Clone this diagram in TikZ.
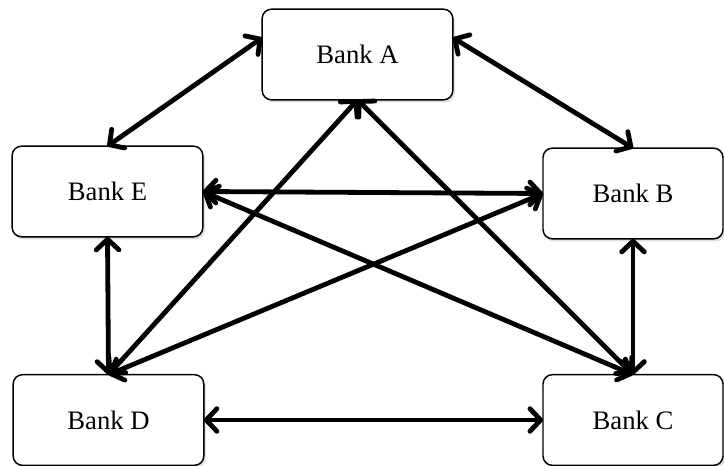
\documentclass[tikz,border=0pt]{standalone}
\usepackage{fontspec}
\setmainfont{Liberation Serif}
\usetikzlibrary{arrows.meta,shadows}

\begin{document}
\begin{tikzpicture}[x=0.75pt,y=-0.75pt,<->,>={Straight Barb[length=8pt,width=17pt,round]},
  line width=3.6pt,
  bank/.style={rectangle,rounded corners=7pt,draw,line width=1.1pt,fill=white,
    minimum width=143pt,minimum height=68pt,inner sep=0pt,outer sep=0pt,
    font=\fontsize{20}{24}\selectfont,
    drop shadow={opacity=0.25,shadow xshift=1.5pt,shadow yshift=-2pt}}]

  \useasboundingbox (0,0) rectangle (724,466);

  \node[bank] (A) at (357.5,54.5) {Bank A};
  \node[bank] (E) at (107.5,191.5) {Bank E};
  \node[bank,minimum width=135pt] (B) at (633,193.5) {Bank B};
  \node[bank,minimum width=143pt] (D) at (108.5,420) {Bank D};
  \node[bank,minimum width=135pt] (C) at (633,420) {Bank C};

  \path
    (A.170) edge (E.north)
    (A.10) edge (B.north)
    (A.south) edge (D.north)
    	edge (C.north)
    (E.east) edge (B.west)
    	edge (C.north)
    (B.west) edge (D.north)
    (E.south) edge (D.north)
    (B.south) edge (C.north)
    (D.east) edge (C.west);

\end{tikzpicture}
\end{document}
